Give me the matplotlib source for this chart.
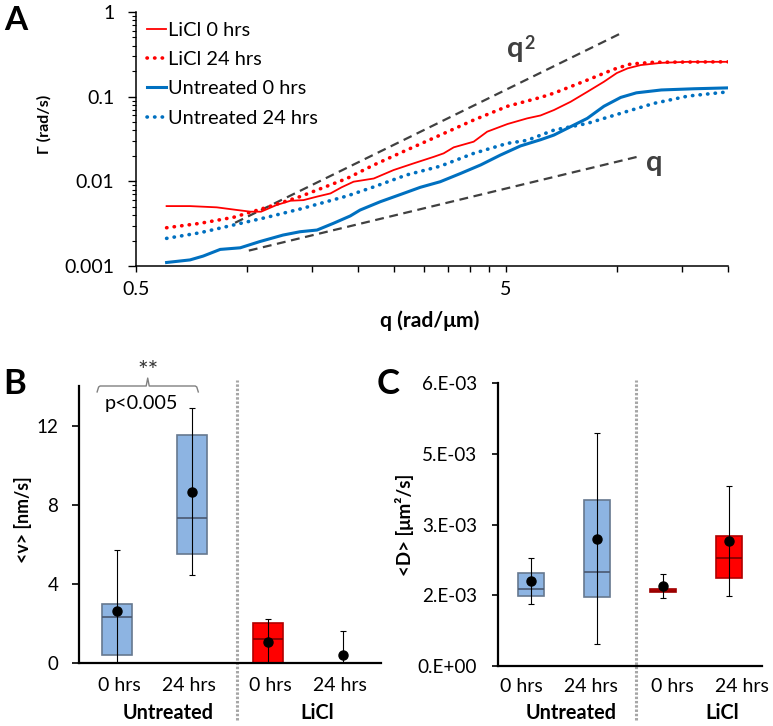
import matplotlib
matplotlib.use("Agg")
import matplotlib.pyplot as plt
import matplotlib.transforms as mtransforms

plt.rcParams['font.family'] = ['Lato', 'DejaVu Sans']

# ---------------- Data: panel A ----------------
q_licl0 = [0.605, 0.70, 0.827, 0.937, 1.02, 1.09, 1.20, 1.31, 1.42, 1.545, 1.68, 1.80, 1.94, 2.20,
           2.49, 2.82, 3.20, 3.40, 3.62, 4.10, 4.46, 5.06, 5.72, 6.22, 6.76, 7.50, 8.32, 9.23,
           10.0, 10.7, 11.6, 13.2, 15.6, 20.0]
g_licl0 = [0.0051, 0.0051, 0.00493, 0.00459, 0.00438, 0.00438, 0.00525, 0.0059, 0.0060, 0.0066,
           0.0072, 0.0085, 0.0099, 0.0108, 0.0136, 0.0163, 0.0195, 0.0214, 0.0252, 0.0294, 0.0386,
           0.0475, 0.0554, 0.060, 0.0695, 0.087, 0.114, 0.150, 0.19, 0.216, 0.236, 0.251, 0.258, 0.258]

q_licl24 = [0.605, 0.745, 0.918, 1.13, 1.39, 1.86, 2.20, 2.70, 3.33, 4.10, 5.06, 6.22, 6.76, 8.32,
            9.8, 10.9, 12.6, 20.0]
g_licl24 = [0.00283, 0.00319, 0.00376, 0.00493, 0.0066, 0.0108, 0.0156, 0.0234, 0.0352, 0.053,
            0.077, 0.098, 0.11, 0.157, 0.21, 0.243, 0.255, 0.258]

q_unt0 = [0.605, 0.70, 0.76, 0.845, 0.957, 1.08, 1.25, 1.39, 1.545, 1.71, 1.90, 2.02, 2.29, 2.60,
          2.94, 3.33, 3.78, 4.28, 4.84, 5.49, 6.22, 6.76, 7.5, 8.32, 9.23, 10.25, 11.3, 13.2, 16.2, 20.0]
g_unt0 = [0.0011, 0.00118, 0.00131, 0.00157, 0.00164, 0.00194, 0.00232, 0.00254, 0.00266, 0.00319,
          0.0039, 0.00458, 0.00574, 0.0070, 0.0085, 0.0099, 0.0124, 0.0156, 0.0204, 0.0262, 0.031,
          0.0352, 0.0442, 0.0554, 0.077, 0.098, 0.111, 0.12, 0.124, 0.127]

q_unt24 = [0.605, 0.745, 0.918, 1.13, 1.39, 1.86, 2.20, 2.70, 3.33, 4.10, 5.06, 5.72, 6.76, 8.32,
           10.25, 12.6, 15.6, 20.0]
g_unt24 = [0.00212, 0.00247, 0.00305, 0.00376, 0.00471, 0.0067, 0.0086, 0.0119, 0.0151, 0.0214,
           0.0281, 0.0305, 0.0403, 0.0483, 0.0636, 0.0833, 0.1017, 0.114]

q_guide2 = [0.927, 10.25]
g_guide2 = [0.00324, 0.559]
q_guide1 = [1.01, 11.6]
g_guide1 = [0.00152, 0.0199]

# ---------------- Data: panel B (<v>, nm/s) ----------------
b_labels = ["0 hrs", "24 hrs", "0 hrs", "24 hrs"]
b_q1 = [0.4, 5.5, 0.0, 0.0]
b_med = [2.3, 7.35, 1.2, 0.0]
b_q3 = [3.0, 11.5, 2.0, 0.0]
b_lo = [0.0, 4.45, 0.0, 0.0]
b_hi = [5.7, 12.9, 2.2, 1.6]
b_mean = [2.65, 8.65, 1.08, 0.4]

# ---------------- Data: panel C (<D>, um^2/s) ----------------
c_labels = ["0 hrs", "24 hrs", "0 hrs", "24 hrs"]
c_q1 = [1.478e-3, 1.456e-3, 1.575e-3, 1.86e-3]
c_med = [1.64e-3, 1.99e-3, 1.60e-3, 2.29e-3]
c_q3 = [1.972e-3, 3.53e-3, 1.625e-3, 2.76e-3]
c_lo = [1.32e-3, 0.46e-3, 1.435e-3, 1.48e-3]
c_hi = [2.30e-3, 4.95e-3, 1.96e-3, 3.82e-3]
c_mean = [1.80e-3, 2.70e-3, 1.69e-3, 2.64e-3]
c_ticks = [0.0, 1.5e-3, 3.0e-3, 4.5e-3, 6.0e-3]
c_ticklabels = ["0.E+00", "2.E-03", "3.E-03", "5.E-03", "6.E-03"]

groups = ["Untreated", "LiCl"]

RED = "#FF0000"
BLUE = "#0070C0"
GUIDE = "#404040"
BOXBLUE = "#8DB4E2"

W, H = 773, 726
fig = plt.figure(figsize=(W / 100, H / 100), dpi=100)


def rect(l, t, r, b):
    return [l / W, 1 - b / H, (r - l) / W, (b - t) / H]


def fx(x):
    return x / W


def fy(y):
    return 1 - y / H


# ================= Panel A =================
axA = fig.add_axes(rect(136, 12, 728, 266))
axA.set_xscale('log')
axA.set_yscale('log')
axA.plot(q_guide2, g_guide2, color=GUIDE, lw=1.6, linestyle=(0, (4, 2.5)))
axA.plot(q_guide1, g_guide1, color=GUIDE, lw=1.6, linestyle=(0, (4, 2.5)))
l1, = axA.plot(q_licl0, g_licl0, color=RED, lw=1.3, label="LiCl 0 hrs")
l2, = axA.plot(q_licl24, g_licl24, color=RED, lw=2.6, linestyle=(0, (0.1, 2.0)),
               dash_capstyle='round', label="LiCl 24 hrs")
l3, = axA.plot(q_unt0, g_unt0, color=BLUE, lw=2.2, label="Untreated 0 hrs")
l4, = axA.plot(q_unt24, g_unt24, color=BLUE, lw=2.6, linestyle=(0, (0.1, 2.0)),
               dash_capstyle='round', label="Untreated 24 hrs")
axA.set_xlim(0.5, 20)
axA.set_ylim(0.001, 1)
axA.spines['top'].set_visible(False)
axA.spines['right'].set_visible(False)
for s in ['left', 'bottom']:
    axA.spines[s].set_linewidth(1.1)
axA.set_xticks([0.5, 5])
axA.set_xticklabels(["0.5", "5"])
axA.set_xticks([1, 1.5, 2, 2.5, 3, 3.5, 4, 4.5, 10, 15, 20], minor=True)
axA.xaxis.set_minor_formatter(matplotlib.ticker.NullFormatter())
axA.set_yticks([0.001, 0.01, 0.1, 1])
axA.set_yticklabels(["0.001", "0.01", "0.1", "1"])
axA.tick_params(axis='x', which='both', direction='out', length=4.5, width=1, labelsize=14, pad=6)
axA.tick_params(axis='y', which='major', direction='out', length=5.5, width=1, labelsize=14, pad=10)
axA.tick_params(axis='y', which='minor', direction='out', length=3, width=0.8)
leg = axA.legend(handles=[l1, l2, l3, l4], loc='upper left', bbox_to_anchor=(0.0186, 0.962),
                 frameon=False, fontsize=14.4, handlelength=0.95, handletextpad=0.1,
                 borderpad=0, borderaxespad=0, labelspacing=0.62)

fig.text(fx(507), fy(57), "q", fontsize=21, fontweight='bold', color=GUIDE, ha='left', va='baseline')
fig.text(fx(524), fy(49), "2", fontsize=13, fontweight='bold', color=GUIDE, ha='left', va='baseline')
fig.text(fx(646), fy(171), "q", fontsize=21, fontweight='bold', color=GUIDE, ha='left', va='baseline')

fig.text(fx(430), fy(321), "q (rad/μm)", fontsize=15.2, fontweight='bold', ha='center', va='center')
fig.text(fx(44), fy(124), "Γ (rad/s)", fontsize=11.5, fontweight='bold', ha='center', va='center',
         rotation=90)
fig.text(fx(16), fy(21), "A", fontsize=24, fontweight='bold', ha='center', va='center')


# ================= Box panels =================
def box_panel(ax, q1, med, q3, lo, hi, mean, colors, edgecolors, medcolors):
    pos = [0, 1, 2, 3]
    stats = []
    for i in range(4):
        stats.append(dict(med=med[i], q1=q1[i], q3=q3[i], whislo=q1[i], whishi=q3[i], fliers=[]))
    bp = ax.bxp(stats, positions=pos, widths=0.4, patch_artist=True, showcaps=False,
                showfliers=False, manage_ticks=False)
    for i, b in enumerate(bp['boxes']):
        b.set_facecolor(colors[i])
        b.set_edgecolor(edgecolors[i])
        b.set_linewidth(1.2)
    for i, m in enumerate(bp['medians']):
        m.set_color(medcolors[i])
        m.set_linewidth(1.2)
    for w in bp['whiskers']:
        w.set_visible(False)
    yerr = [[mean[i] - lo[i] for i in range(4)], [hi[i] - mean[i] for i in range(4)]]
    ax.errorbar(pos, mean, yerr=yerr, fmt='o', color='black', ms=6.5, elinewidth=0.8,
                capsize=2.5, capthick=0.8, zorder=4)
    ax.set_xlim(-0.5, 3.5)
    ax.spines['top'].set_visible(False)
    ax.spines['right'].set_visible(False)
    for s in ['left', 'bottom']:
        ax.spines[s].set_linewidth(1.6)
        ax.spines[s].set_zorder(5)


DIV = "#A6A6A6"

# ---- Panel B ----
axB = fig.add_axes(rect(79, 386, 381, 663))
box_panel(axB, b_q1, b_med, b_q3, b_lo, b_hi, b_mean,
          [BOXBLUE, BOXBLUE, RED, RED], ["#66788F", "#66788F", "#B00000", "#B00000"],
          ["#4A5870", "#4A5870", "#7A0000", "#7A0000"])
axB.set_ylim(0, 14)
axB.set_yticks([0, 4, 8, 12])
axB.tick_params(axis='y', direction='out', length=5, width=1.2, labelsize=13.5, pad=10)
axB.set_xticks([0.03, 0.96, 2.03, 2.96])
axB.set_xticklabels(b_labels)
axB.tick_params(axis='x', length=0, labelsize=14, pad=10)
trB = mtransforms.blended_transform_factory(axB.transData, axB.transAxes)
axB.plot([1.59, 1.59], [-0.206, 1.022], transform=trB, clip_on=False, color=DIV, lw=2.2,
         linestyle=(0, (0.8, 0.6)))
axB.text(0.685, -0.18, groups[0], transform=trB, fontsize=14.3, fontweight='bold', ha='center', va='center')
axB.text(2.65, -0.18, groups[1], transform=trB, fontsize=14.3, fontweight='bold', ha='center', va='center')
# significance bracket
bx = [-0.26, -0.24, -0.22, 0.39, 0.41, 0.43, 1.04, 1.06, 1.08]
by = [13.7, 13.95, 14.0, 14.0, 14.4, 14.0, 14.0, 13.95, 13.7]
axB.plot(bx, by, color="#808080", lw=1.0, clip_on=False)
axB.text(0.41, 14.75, "**", fontsize=18, color="#333333", ha='center', va='center')
axB.text(0.33, 13.1, "p<0.005", fontsize=14.3, ha='center', va='center')
fig.text(fx(23), fy(520), "<v> [nm/s]", fontsize=12.8, fontweight='bold', ha='center', va='center',
         rotation=90)
fig.text(fx(15), fy(384), "B", fontsize=25, fontweight='bold', ha='center', va='center')

# ---- Panel C ----
axC = fig.add_axes(rect(498, 383, 762, 666))
box_panel(axC, c_q1, c_med, c_q3, c_lo, c_hi, c_mean,
          [BOXBLUE, BOXBLUE, RED, RED], ["#66788F", "#66788F", "#A00000", "#B00000"],
          ["#4A5870", "#4A5870", "#900000", "#7A0000"])
axC.set_ylim(0, 6e-3)
axC.set_yticks(c_ticks)
axC.set_yticklabels(c_ticklabels)
axC.tick_params(axis='y', direction='out', length=4.5, width=1.2, labelsize=13.6, pad=10.5)
axC.set_xticks([-0.15, 0.91, 2.14, 3.2])
axC.set_xticklabels(c_labels)
axC.tick_params(axis='x', length=0, labelsize=14, pad=9)
trC = mtransforms.blended_transform_factory(axC.transData, axC.transAxes)
axC.plot([1.59, 1.59], [-0.191, 1.011], transform=trC, clip_on=False, color=DIV, lw=2.2,
         linestyle=(0, (0.8, 0.6)))
axC.text(0.606, -0.166, groups[0], transform=trC, fontsize=14.3, fontweight='bold', ha='center', va='center')
axC.text(2.89, -0.166, groups[1], transform=trC, fontsize=14.3, fontweight='bold', ha='center', va='center')
fig.text(fx(405), fy(525), "<D> [μm²/s]", fontsize=13.5, fontweight='bold', ha='center', va='center',
         rotation=90)
fig.text(fx(388), fy(384), "C", fontsize=25, fontweight='bold', ha='center', va='center')

fig.savefig("out.png", dpi=100)
